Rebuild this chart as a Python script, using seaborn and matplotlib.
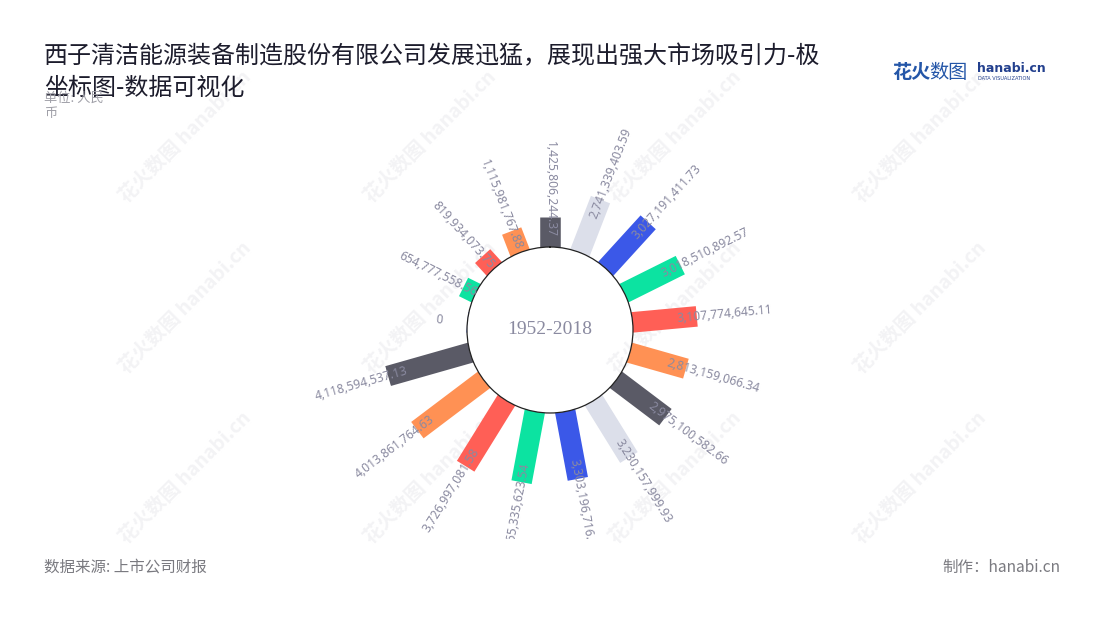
import numpy as np
import matplotlib
matplotlib.use('Agg')
import matplotlib.pyplot as plt
import seaborn as sns
from matplotlib.transforms import Bbox, TransformedBbox

# Data: yearly revenue (RMB)
years = [str(y) for y in range(2002, 2019)]
values = [0, 654777558.56, 819934073.75, 1115981767.88, 1425806244.37,
          2741339403.59, 3027191411.73, 3018510892.57, 3107774645.11,
          2813159066.34, 2975100582.66, 3230157999.93, 3303196716.12,
          3465335623.54, 3726997081.58, 4013861764.63, 4118594537.13]
center_label = '1952-2018'
palette = ['#3b58e8', '#0ce3a1', '#ff5f56', '#ff9154', '#5a5a66', '#dcdfea']

sns.set_theme(style='white')
plt.rcParams['font.family'] = ['Noto Sans CJK SC', 'DejaVu Sans']

W, H = 1100, 620
fig = plt.figure(figsize=(11, 6.2), dpi=100)
fig.patch.set_facecolor('white')


def fx(x):
    return x / W


def fy(y):
    return 1 - y / H


# watermarks (behind the chart)
for wy in [137, 308, 478]:
    for wx in [185, 430, 675, 920]:
        fig.text(fx(wx), fy(wy), '花火数图 hanabi.cn', rotation=45,
                 ha='center', va='center', fontsize=14, fontweight='bold',
                 color='#f3f3f5', zorder=-1)

# polar axes centred at (550, 330), outer radius 169 px
R = 169
ax = fig.add_axes([fx(550 - R), fy(330 + R), 2 * R / W, 2 * R / H],
                  projection='polar')
ax.set_facecolor('none')
ax.set_zorder(1)
ax.set_theta_direction(-1)
ax.set_theta_offset(np.pi / 2)

n = len(values)
step = 2 * np.pi / n
theta = (np.arange(n) - 4) * step
rmax = 4.15e9
hole = 83
rorig = hole * rmax / (R - hole)
ax.set_ylim(0, rmax)
ax.set_rorigin(-rorig)
per_px = (rmax + rorig) / R

colors = [palette[i % len(palette)] for i in range(n)]
ax.vlines(theta, -0.3e9, values, colors=colors, linewidth=14.8,
          capstyle='butt', zorder=2)

ax.grid(False)
ax.set_xticks([])
ax.set_yticks([])
ax.spines['polar'].set_visible(False)
ax.spines['inner'].set_color('#222222')
ax.spines['inner'].set_linewidth(0.9)

clipbox = TransformedBbox(Bbox([[0, fy(539)], [1, 1]]), fig.transFigure)
for t, v in zip(theta, values):
    a = 90 - np.degrees(t)
    a = (a + 180) % 360 - 180
    if -90 < a < 90:
        rot = a
    elif a >= 90:
        rot = a - 180
    else:
        rot = a + 180
    txt = ax.text(t, v + 28 * per_px, f'{v:,.2f}' if v else '0',
                  rotation=rot, rotation_mode='anchor', ha='center',
                  va='center', fontsize=8.7, color='#8a8aa0',
                  family=['Noto Sans', 'DejaVu Sans'], zorder=4)
    txt.set_clip_on(True)
    txt.set_clip_box(clipbox)

ax.text(0, -rorig, center_label, ha='center', va='center', fontsize=14,
        family='Liberation Serif', color='#8a8aa0')

# titles
fig.text(fx(44), fy(56), '西子清洁能源装备制造股份有限公司发展迅猛，展现出强大市场吸引力-极',
         ha='left', va='center', fontsize=17.3, color='#1c1c2c')
fig.text(fx(44), fy(88), '坐标图-数据可视化', ha='left', va='center',
         fontsize=17.3, color='#1c1c2c')
fig.text(fx(44), fy(98), '单位: 人民', ha='left', va='center',
         fontsize=9.5, color='#a0a0a8')
fig.text(fx(44), fy(114), '币', ha='left', va='center',
         fontsize=9.5, color='#a0a0a8')

# logo
fig.text(fx(892), fy(72), '花火', ha='left', va='center', fontsize=13.8,
         fontweight='bold', color='#2456a8')
fig.text(fx(929), fy(72), '数图', ha='left', va='center', fontsize=13.8,
         color='#2456a8')
fig.text(fx(977), fy(69), 'hanabi.cn', ha='left', va='center', fontsize=9,
         fontweight='bold', color='#23408e', family='DejaVu Sans')
fig.text(fx(978), fy(79), 'DATA VISUALIZATION', ha='left', va='center',
         fontsize=3.6, color='#23408e', family='DejaVu Sans')

# footer
fig.text(fx(44), fy(567), '数据来源: 上市公司财报', ha='left', va='center',
         fontsize=11.2, color='#7a7a80')
fig.text(fx(1060), fy(567), '制作：hanabi.cn', ha='right', va='center',
         fontsize=11.2, color='#7a7a80')

fig.savefig('out.png', dpi=100, facecolor='white')
